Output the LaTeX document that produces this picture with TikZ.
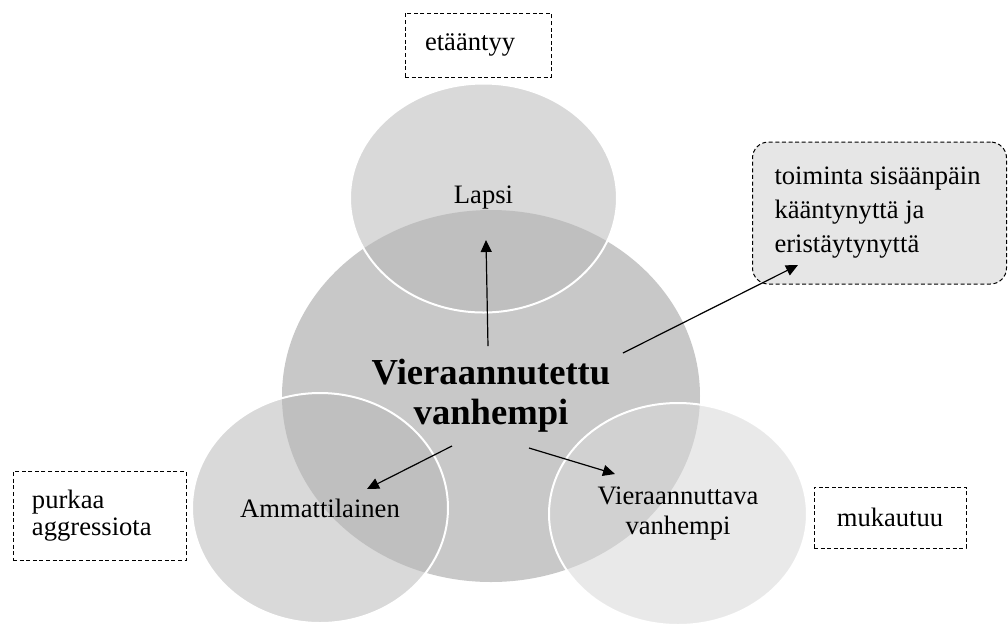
\documentclass[tikz,border=0pt]{standalone}
\usepackage{fontspec}
\setmainfont{Liberation Serif}
\usetikzlibrary{shapes.geometric,arrows.meta}
\definecolor{bigfill}{HTML}{C8C8C8}
\definecolor{notefill}{HTML}{E6E6E6}
\begin{document}
\begin{tikzpicture}[x=0.5pt, y=-0.5pt, thick]
\tikzstyle{circ} = [ellipse, draw=white, line width=1pt, inner sep=0pt, text opacity=1,
                    align=center, font=\fontsize{13.3}{15}\selectfont]
\tikzstyle{note} = [rectangle, draw, line width=0.5pt, dash pattern=on 2pt off 1.3pt,
                    align=flush left, font=\fontsize{13.3}{13.5}\selectfont]
\tikzstyle{line} = [draw, line width=0.6pt, -{Triangle[length=6pt,width=5.5pt]}]
\useasboundingbox (0,0) rectangle (1008,623);

\node [ellipse, fill=bigfill, inner sep=0pt, minimum width=209pt, minimum height=186pt,
       align=center, font=\fontsize{18.3}{20}\selectfont\bfseries] (parent) at (491,396)
       {Vieraannutettu\\vanhempi};
\node [circ, fill=black!28, fill opacity=0.54, minimum width=133.5pt, minimum height=114.5pt] (child) at (483.5,198) {Lapsi};
\node [circ, fill=black!28, fill opacity=0.54, minimum width=128pt, minimum height=115pt] (pro) at (320,508) {Ammattilainen};
\node [circ, fill=black!15, fill opacity=0.57, minimum width=129pt, minimum height=111pt] (other) at (678,514) {Vieraannuttava\\vanhempi};

\node [note, minimum width=73pt, minimum height=32pt, text width=53pt, inner xsep=10pt] (away) at (478,45) {etääntyy};
\node [note, fill=notefill, rounded corners=8pt, minimum width=126.5pt, minimum height=71pt,
       text width=105pt, inner xsep=11pt, font=\fontsize{13.3}{17}\selectfont] (inward) at (879.5,213)
       {toiminta sisäänpäin\\kääntynyttä ja\\eristäytynyttä};
\node [note, minimum width=86.5pt, minimum height=44.5pt, text width=67.5pt, inner xsep=9.5pt] (vent) at (99.5,516) {purkaa\\aggressiota};
\node [note, align=center, minimum width=76pt, minimum height=30.5pt] (adapt) at (890,517.5) {mukautuu};

\coordinate (s1) at (488,346);
\coordinate (e1) at (486,240);
\coordinate (s2) at (623,353);
\coordinate (e2) at (798,265);
\coordinate (s3) at (452,446);
\coordinate (e3) at (367,489);
\coordinate (s4) at (529,448);
\coordinate (e4) at (615,474);

\path [line] (s1) -- (e1);
\path [line] (s2) -- (e2);
\path [line] (s3) -- (e3);
\path [line] (s4) -- (e4);
\end{tikzpicture}
\end{document}
